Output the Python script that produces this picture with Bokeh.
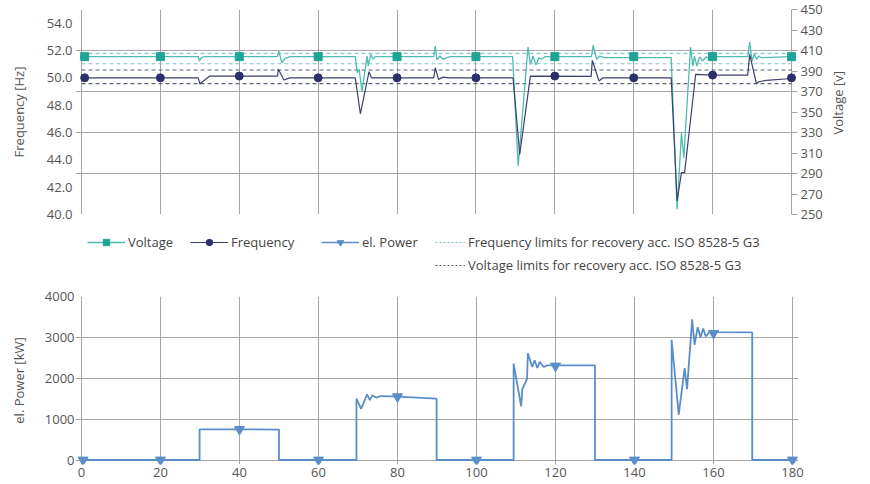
import math
import numpy as np
from bokeh.plotting import figure
from bokeh.models import (Range1d, LinearAxis, FixedTicker, Legend, LegendItem,
                          NumeralTickFormatter, Label)
from bokeh.layouts import column, row
from bokeh.embed import file_html
from bokeh.resources import INLINE

# ---------------- data ----------------
volt_t = [0, 29.6, 29.9, 30.4, 31.2,
          49.7, 50.0, 50.8, 51.6, 52.9,
          69.4, 69.9, 70.4, 71.1, 72.4, 72.7, 73.3, 73.9, 74.5,
          89.3, 89.7, 90.1, 90.9, 91.6, 92.6, 93.5,
          109.3, 110.7, 113.2, 113.8, 114.5, 115.2, 116.0, 116.6, 117.5,
          129.3, 129.7, 130.6, 131.4, 132.5,
          141.0, 149.5, 151.0, 152.1, 152.7, 154.4, 155.0, 155.4, 156.0, 156.7, 157.4, 158.4, 159.2, 160.0,
          168.9, 169.4, 170.0, 170.6, 171.2, 171.7, 172.3, 180]
voltage = [404, 404, 399.8, 403, 404,
           404, 409.5, 398, 402.4, 404,
           404, 388.3, 391.7, 370, 404.6, 395, 406.3, 401.4, 404,
           404, 414.4, 401, 404.6, 401.4, 403, 404,
           404, 297.3, 413.4, 396.5, 404.6, 395.9, 403, 401.4, 404,
           404, 415.1, 401.4, 404.6, 403,
           403, 403, 255.1, 329.8, 305.4, 413.4, 394.9, 404.6, 394.9, 403.7, 399.8, 403.7, 402.4, 404,
           404, 418.3, 399.8, 406.3, 401.4, 404.6, 403, 404]

freq_t = [0, 29.6, 30.0, 32.5, 49.7, 49.9, 51.3, 52.8,
          69.4, 70.7, 72.9, 73.5,
          89.3, 89.7, 90.5, 91.7, 93.0,
          109.4, 111.1, 113.8,
          129.2, 129.5, 131.2, 132.2,
          149.5, 151.0, 152.1, 152.9, 155.7, 160.0,
          168.9, 169.4, 171.1, 171.7, 173.6, 180]
frequency = [50.0, 50.0, 49.55, 50.13, 50.13, 50.64, 49.84, 50.0,
             50.0, 47.37, 50.45, 50.0,
             50.0, 50.74, 49.89, 50.05, 50.0,
             50.0, 44.4, 50.13,
             50.1, 51.28, 49.77, 50.0,
             50.0, 40.99, 43.06, 43.06, 50.26, 50.2,
             50.2, 51.72, 49.57, 49.71, 49.82, 49.95]

power_t = [0, 29.9, 29.9, 40, 50, 50,
           69.6, 69.6, 70.8, 72.3, 73.0, 73.6, 74.7, 75.7, 80, 89.9, 89.9,
           109.4, 109.4, 111.3, 111.6, 112.8, 113.0, 114.1, 114.7, 115.4, 116.0, 117.0, 117.9, 130, 130,
           149.4, 149.4, 151.2, 152.7, 153.3, 154.6, 155.2, 156.0, 156.7, 157.4, 158.0, 159.2, 160, 169.8, 169.8, 180]
power = [0, 0, 750, 750, 745, 0,
         0, 1500, 1250, 1607, 1465, 1583, 1525, 1565, 1550, 1500, 0,
         0, 2360, 1315, 1733, 1983, 2608, 2275, 2440, 2250, 2400, 2275, 2315, 2315, 0,
         0, 2940, 1108, 2250, 1733, 3440, 2815, 3250, 3000, 3215, 3025, 3150, 3130, 3120, 0, 0]

top_marker_t = [0.8, 20, 40, 60, 80, 100, 120, 140, 160, 180]
volt_markers = [404, 404, 404, 404, 404, 404, 404, 404, 404, 404]
freq_markers = [50.0, 50.0, 50.13, 50.0, 50.0, 50.0, 50.13, 50.0, 50.2, 50.0]
power_marker_t = [0.4, 20, 40, 60, 80, 100, 120, 140, 160, 180]
power_markers = [0, 0, 750, 0, 1550, 0, 2300, 0, 3100, 0]

freq_limits = [51.79, 51.03]   # Hz
volt_limits = [391.0, 377.6]   # V

time_ticks = [0, 20, 40, 60, 80, 100, 120, 140, 160, 180]
freq_ticks = [40, 42, 44, 46, 48, 50, 52, 54]
volt_ticks = [250, 270, 290, 310, 330, 350, 370, 390, 410, 430, 450]
volt_grid = [250, 290, 330, 370, 410, 450]
power_ticks = [0, 1000, 2000, 3000, 4000]

# ---------------- style ----------------
FONT = "Open Sans"
TXT = "#555555"
GRID = "#a6a6a6"
TEAL_L = "#4dbcb1"
TEAL_M = "#1ea596"
NAVY_L = "#3c406c"
NAVY_M = "#2b2f6c"
PWR = "#5b8ec8"
FLIM = "#86c3c9"
VLIM = "#5f6477"

t_min, t_max = 0, 180
px_per_t = 711 / 180.0
pad_t = 6 / px_per_t
x_lo, x_hi = t_min - pad_t, t_max + pad_t
W = 853
BL, BR = 75, 55           # left / right borders -> frame 723 px
FRAME_W = W - BL - BR
BR_TOP = 27               # right border of the top chart (tick labels only)
RLAB_W = W - (BL + FRAME_W + BR_TOP)


def style_axis(ax, standoff, label_standoff):
    ax.axis_line_color = None
    ax.minor_tick_line_color = None
    ax.major_tick_line_color = None
    ax.major_tick_in = 0
    ax.major_tick_out = 0
    ax.minor_tick_in = 0
    ax.minor_tick_out = 0
    ax.major_label_text_font = FONT
    ax.major_label_text_font_size = "13px"
    ax.major_label_text_color = TXT
    ax.major_label_standoff = standoff
    ax.axis_label_text_font = FONT
    ax.axis_label_text_font_size = "13px"
    ax.axis_label_text_color = TXT
    ax.axis_label_text_font_style = "normal"
    ax.axis_label_standoff = label_standoff


# ---------------- top chart ----------------
TH = 224
p1 = figure(width=BL + FRAME_W + BR_TOP, height=TH, x_range=Range1d(x_lo, x_hi),
            y_range=Range1d(250, 450),
            y_axis_location="right", output_backend="svg", toolbar_location=None,
            min_border_left=BL, min_border_right=BR_TOP, min_border_top=9, min_border_bottom=10)
p1.outline_line_color = None
p1.xaxis.visible = False
p1.xgrid.ticker = FixedTicker(ticks=time_ticks)
p1.ygrid.ticker = FixedTicker(ticks=volt_grid)
for g in (p1.xgrid, p1.ygrid):
    g.grid_line_color = GRID
    g.grid_line_width = 1

ax_v = p1.right[0]
ax_v.ticker = FixedTicker(ticks=volt_ticks)
style_axis(ax_v, 3, 0)
ax_v.major_tick_line_color = GRID
ax_v.major_tick_in = 6

p1.extra_y_ranges = {"freq": Range1d(40, 55)}
ax_f = LinearAxis(y_range_name="freq", ticker=FixedTicker(ticks=freq_ticks),
                  formatter=NumeralTickFormatter(format="0.0"), axis_label="Frequency [Hz]")
style_axis(ax_f, 3, 16)
p1.add_layout(ax_f, "left")

p1.multi_line(xs=[[t_min, t_max] for _ in freq_limits], ys=[[v, v] for v in freq_limits],
              y_range_name="freq", line_color=FLIM, line_width=1.2, line_dash="4 3")
p1.multi_line(xs=[[t_min, t_max] for _ in volt_limits], ys=[[v, v] for v in volt_limits],
              line_color=VLIM, line_width=1.2, line_dash="4 3")
p1.line(volt_t, voltage, line_color=TEAL_L, line_width=1.3)
p1.line(freq_t, frequency, y_range_name="freq", line_color=NAVY_L, line_width=1.2)
p1.scatter(top_marker_t, volt_markers, marker="square", size=8, fill_color=TEAL_M, line_color=TEAL_M)
p1.scatter(top_marker_t, freq_markers, y_range_name="freq", marker="circle", size=8,
           fill_color=NAVY_M, line_color=NAVY_M)

# right-hand axis title (reads bottom-to-top, as in the reference)
pr = figure(width=RLAB_W, height=TH, x_range=Range1d(0, 1), y_range=Range1d(0, 1),
            x_axis_location=None, y_axis_location=None, output_backend="svg", toolbar_location=None,
            min_border_left=0, min_border_right=0, min_border_top=0, min_border_bottom=0)
pr.outline_line_color = None
pr.xgrid.visible = False
pr.ygrid.visible = False
pr.add_layout(Label(x=0.45, y=0.545, text="Voltage [v]", angle=math.pi / 2,
                    text_align="center", text_baseline="middle", text_font=FONT,
                    text_font_size="13px", text_color=TXT))

# ---------------- legend strip ----------------
LH = 56
pl = figure(width=W, height=LH, x_range=Range1d(0, 1), y_range=Range1d(0, 1),
            x_axis_location=None, y_axis_location=None, output_backend="svg", toolbar_location=None,
            min_border_left=BL, min_border_right=BR, min_border_top=0, min_border_bottom=0)
pl.outline_line_color = None
pl.xgrid.visible = False
pl.ygrid.visible = False
OFF = [-10.0]   # proxy glyphs placed outside the visible range (legend swatches only)
lv_l = pl.line(OFF, OFF, line_color=TEAL_L, line_width=1.3)
lv_m = pl.scatter(OFF, OFF, marker="square", size=8, fill_color=TEAL_M, line_color=TEAL_M)
lf_l = pl.line(OFF, OFF, line_color=NAVY_L, line_width=1.2)
lf_m = pl.scatter(OFF, OFF, marker="circle", size=8, fill_color=NAVY_M, line_color=NAVY_M)
lp_l = pl.line(OFF, OFF, line_color=PWR, line_width=1.3)
lp_m = pl.scatter(OFF, OFF, marker="inverted_triangle", size=10, fill_color=PWR, line_color=PWR)
lfl = pl.line(OFF, OFF, line_color=FLIM, line_width=1.2, line_dash="2 2")
lvl = pl.line(OFF, OFF, line_color=VLIM, line_width=1.2, line_dash="2 2")


def add_legend(label, renderers, page_x, vy, gw):
    leg = Legend(items=[LegendItem(label=label, renderers=renderers)], location=(page_x - BL, vy),
                 orientation="horizontal", glyph_width=gw, glyph_height=16, label_height=16,
                 padding=0, margin=0, spacing=0, label_standoff=3,
                 border_line_color=None, background_fill_alpha=0,
                 label_text_font=FONT, label_text_font_size="13px", label_text_color="#444444")
    pl.add_layout(leg, "center")


add_legend("Voltage", [lv_l, lv_m], 87, 29, 38)
add_legend("Frequency", [lf_l, lf_m], 190, 29, 38)
add_legend("el. Power", [lp_l, lp_m], 321, 29, 38)
add_legend("Frequency limits for recovery acc. ISO 8528-5 G3", [lfl], 435, 29, 30)
add_legend("Voltage limits for recovery acc. ISO 8528-5 G3", [lvl], 435, 6, 30)

# ---------------- bottom chart ----------------
PH = 203
p_top, p_frame = 16, 168
kw_per_px = 4000 / 163.5
p2 = figure(width=W, height=PH, x_range=Range1d(x_lo, x_hi),
            y_range=Range1d(4000 - p_frame * kw_per_px, 4000),
            output_backend="svg", toolbar_location=None,
            min_border_left=BL, min_border_right=BR, min_border_top=p_top,
            min_border_bottom=PH - p_top - p_frame)
p2.outline_line_color = None
p2.xgrid.ticker = FixedTicker(ticks=time_ticks)
p2.ygrid.ticker = FixedTicker(ticks=power_ticks)
for g in (p2.xgrid, p2.ygrid):
    g.grid_line_color = GRID
    g.grid_line_width = 1
p2.xaxis.ticker = FixedTicker(ticks=time_ticks)
style_axis(p2.xaxis[0], 3, 0)
p2.yaxis.ticker = FixedTicker(ticks=power_ticks)
p2.yaxis.axis_label = "el. Power [kW]"
style_axis(p2.yaxis[0], 1, 14)

p2.line(power_t, power, line_color=PWR, line_width=1.8)
p2.scatter(power_marker_t, power_markers, marker="inverted_triangle", size=10,
           fill_color=PWR, line_color=PWR)

layout = column(row(p1, pr, spacing=0), pl, p2, spacing=0)
open("out.html", "w").write(file_html(layout, INLINE))
